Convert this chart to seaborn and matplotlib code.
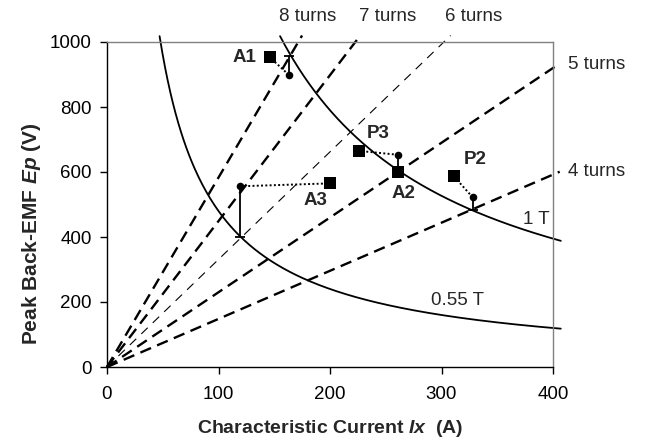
import numpy as np
import pandas as pd
import matplotlib
matplotlib.use("Agg")
import matplotlib.pyplot as plt
import seaborn as sns

sns.set_theme(style="white")
plt.rcParams['font.family'] = ['Liberation Sans', 'DejaVu Sans']
plt.rcParams['mathtext.fontset'] = 'custom'
plt.rcParams['mathtext.rm'] = 'Liberation Sans'
plt.rcParams['mathtext.it'] = 'Liberation Sans:italic'
plt.rcParams['mathtext.bf'] = 'Liberation Sans:bold'
plt.rcParams['mathtext.bfit'] = 'Liberation Sans:bold:italic'

# Constant-turn lines through the origin: Ep = slope * Ix
turns = [4, 5, 6, 7, 8]
turn_slopes = [1.48, 2.30, 3.31, 4.49, 5.83]
turn_labels = ["4 turns", "5 turns", "6 turns", "7 turns", "8 turns"]
turn_label_x = [439, 439, 329, 252, 180]
turn_label_y = [603, 932, 1077, 1077, 1077]

# Constant flux-density curves: Ep * Ix = const
flux_labels = ["1 T", "0.55 T"]
flux_consts = [158000, 48000]
flux_label_x = [385, 314]
flux_label_y = [455, 206]

# Measured operating points (squares)
sq_names = ["A1", "P3", "A2", "P2", "A3"]
sq_x = [146, 226, 261, 311, 200]
sq_y = [953, 665, 600, 587, 565]
sq_label_x = [123, 243, 266, 330, 187]
sq_label_y = [952, 720, 534, 637, 512]

# Predicted points (circles) and the value they project to
pred_names = ["A1", "P3", "P2", "A3"]
pred_x = [163, 261, 328, 119]
pred_y = [899, 653, 522, 556]
pred_target = [958, 612, 483, 400]

x_ticks = [0, 100, 200, 300, 400]
y_ticks = [0, 200, 400, 600, 800, 1000]

W, H = 646, 443
fig = plt.figure(figsize=(W / 100, H / 100), dpi=100)
ax = fig.add_axes([107 / W, 1 - 367 / H, 446 / W, 325 / H])

x_end, y_end = 406, 1020

# turn lines
for n, s in zip(turns, turn_slopes):
    xe = min(x_end, y_end / s)
    df = pd.DataFrame({"Ix": [0, xe], "Ep": [0, s * xe]})
    thin = (n == 6)
    sns.lineplot(data=df, x="Ix", y="Ep", ax=ax, color="black",
                 lw=0.8 if thin else 1.7, clip_on=False,
                 linestyle=(0, (8, 6.3)) if thin else (0, (4.9, 2.8)))

# flux density curves
for c in flux_consts:
    xs = np.linspace(c / 1018, 407, 300)
    df = pd.DataFrame({"Ix": xs, "Ep": c / xs})
    sns.lineplot(data=df, x="Ix", y="Ep", ax=ax, color="black", lw=1.3,
                 clip_on=False)

# dotted links between predicted and measured points
sq_lookup = dict(zip(sq_names, zip(sq_x, sq_y)))
for name, px, py in zip(pred_names, pred_x, pred_y):
    qx, qy = sq_lookup[name]
    ax.plot([px, qx], [py, qy], color="black", lw=1.4, linestyle=(0, (1, 1.2)))

# projection stems with end caps
for px, py, ty in zip(pred_x, pred_y, pred_target):
    ax.plot([px, px], [py, ty], color="black", lw=1.3, clip_on=False)
    ax.plot([px], [ty], marker="_", ms=7, mew=1.3, color="black",
            clip_on=False)

pred_df = pd.DataFrame({"Ix": pred_x, "Ep": pred_y})
sns.scatterplot(data=pred_df, x="Ix", y="Ep", ax=ax, color="black",
                marker="o", s=30, linewidth=0, zorder=5, clip_on=False)
sq_df = pd.DataFrame({"Ix": sq_x, "Ep": sq_y})
sns.scatterplot(data=sq_df, x="Ix", y="Ep", ax=ax, color="black",
                marker="s", s=70, linewidth=0, zorder=6, clip_on=False)

fs = 13.5
for lab, tx, ty in zip(turn_labels, turn_label_x, turn_label_y):
    ax.text(tx, ty, lab, ha="center", va="center", fontsize=fs,
            clip_on=False)
for lab, tx, ty in zip(flux_labels, flux_label_x, flux_label_y):
    ax.text(tx, ty, lab, ha="center", va="center", fontsize=fs)
for lab, tx, ty in zip(sq_names, sq_label_x, sq_label_y):
    ax.text(tx, ty, lab, ha="center", va="center", fontsize=fs,
            fontweight="bold")

ax.set_xlim(0, 400)
ax.set_ylim(0, 1000)
ax.set_xticks(x_ticks)
ax.set_yticks(y_ticks)
ax.tick_params(axis="both", direction="out", length=5, width=1,
               colors="black", labelsize=fs, bottom=True, left=True)
ax.tick_params(axis="x", pad=9)
ax.tick_params(axis="y", pad=6)
for side in ["left", "bottom"]:
    ax.spines[side].set_color("black")
    ax.spines[side].set_linewidth(1)
for side in ["top", "right"]:
    ax.spines[side].set_color("#808080")
    ax.spines[side].set_linewidth(1)

ax.set_xlabel(r"Characteristic Current $\mathbfit{Ix}$  (A)", fontsize=14,
              fontweight="bold", va="center")
ax.set_ylabel(r"Peak Back-EMF $\mathbfit{Ep}$ (V)", fontsize=15,
              fontweight="bold", va="center")
ax.xaxis.set_label_coords(0.5, -0.19)
ax.yaxis.set_label_coords(-0.17, 0.41)

fig.savefig("out.png", dpi=100)
